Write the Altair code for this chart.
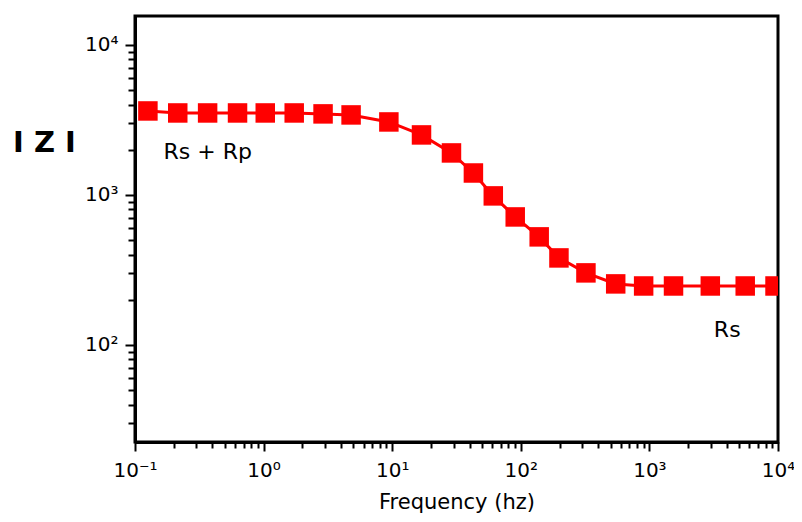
import altair as alt
import pandas as pd

# data
freq = [0.126, 0.215, 0.367, 0.627, 1.03, 1.73, 2.90, 4.79, 9.42, 16.9, 28.9, 42.8,
        61.1, 90.5, 139, 198, 321, 547, 902, 1540, 2976, 5560, 9480]
zmod = [3630, 3520, 3520, 3520, 3520, 3520, 3470, 3415, 3066, 2512, 1905, 1400,
        985, 713, 525, 380, 302, 255, 247, 247, 247, 247, 247]

ann_text = ["Rs + Rp", "Rs"]
ann_freq = [0.368, 4030]
ann_z = [1935, 126]

x_decades = [0.1, 1, 10, 100, 1000, 10000]
x_labels = ["10⁻¹", "10⁰", "10¹", "10²", "10³", "10⁴"]
y_decades = [100, 1000, 10000]
y_labels = ["10²", "10³", "10⁴"]
minor_mult = [1, 2, 3, 4, 5, 6, 7, 8, 9]

x_ticks = [round(m * d, 6) for d in x_decades[:-1] for m in minor_mult] + [10000]
y_ticks = [m * d for d in [10] + y_decades[:-1] for m in minor_mult if m * d >= 30] + [10000]

df = pd.DataFrame({"freq": freq, "z": zmod})
ann = pd.DataFrame({"freq": ann_freq, "z": ann_z, "label": ann_text})


def label_expr(vals, labs):
    e = "''"
    for v, l in reversed(list(zip(vals, labs))):
        e = f"datum.value == {v} ? '{l}' : ({e})"
    return e


def tick_cond(vals, big, small):
    arr = ",".join(str(v) for v in vals)
    return {"condition": {"test": f"indexof([{arr}], datum.value) >= 0", "value": big},
            "value": small}


FONT = "DejaVu Sans"

x_enc = alt.X(
    "freq:Q",
    scale=alt.Scale(type="log", domain=[0.1, 10000], nice=False),
    axis=alt.Axis(
        title="Frequency (hz)",
        values=x_ticks,
        labelExpr=label_expr(x_decades, x_labels),
        tickSize=tick_cond(x_decades, 9, 6),
        labelOverlap=False,
        labelFlush=False,
        labelPadding=9,
        labelFontSize=20,
        titleFontSize=21,
        titleY=60,
        titleBaseline="middle",
    ),
)
y_enc = alt.Y(
    "z:Q",
    scale=alt.Scale(type="log", domain=[22.5, 15600], nice=False),
    axis=alt.Axis(
        title="I Z I",
        values=y_ticks,
        labelExpr=label_expr(y_decades, y_labels),
        tickSize=tick_cond(y_decades, 10, 7),
        labelOverlap=False,
        labelFlush=False,
        labelPadding=7,
        labelFontSize=20,
        titleAngle=0,
        titleFontSize=29,
        titleFontWeight="bold",
        titleX=-91,
        titleY=126,
        titleAlign="center",
        titleBaseline="middle",
    ),
)

line = alt.Chart(df).mark_line(color="#ff0000", strokeWidth=3, clip=True).encode(x=x_enc, y=y_enc)
pts = alt.Chart(df).mark_square(color="#ff0000", size=380, opacity=1, clip=True).encode(x=x_enc, y=y_enc)
txt = alt.Chart(ann).mark_text(font=FONT, fontSize=22, color="black").encode(
    x=alt.X("freq:Q"), y=alt.Y("z:Q"), text="label:N"
)

chart = (
    alt.layer(line, pts, txt)
    .properties(
        width=643,
        height=426,
        padding={"left": 127, "top": 8, "right": 16, "bottom": 72},
        autosize=alt.AutoSizeParams(type="none"),
        background="white",
    )
    .configure_view(stroke="black", strokeWidth=3)
    .configure_axis(
        grid=False,
        domainColor="black",
        domainWidth=3,
        tickColor="black",
        tickWidth=2,
        labelColor="black",
        titleColor="black",
        labelFont=FONT,
        titleFont=FONT,
        titleFontWeight="normal",
    )
)

chart.save("out.html", embed_options={"renderer": "svg", "actions": False})
